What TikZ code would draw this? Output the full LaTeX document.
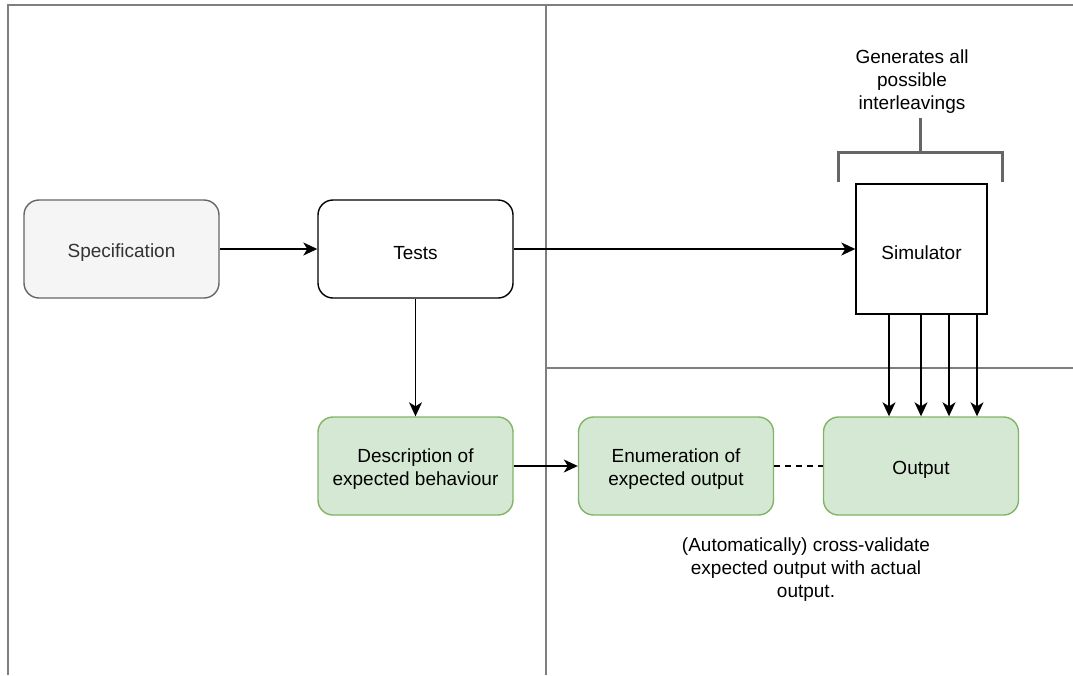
\documentclass[tikz,border=0pt]{standalone}
\usepackage{fontspec}
\setmainfont{Liberation Sans}
\usetikzlibrary{arrows.meta}
\definecolor{specfill}{HTML}{F5F5F5}
\definecolor{specdraw}{HTML}{666666}
\definecolor{spectext}{HTML}{333333}
\definecolor{gfill}{HTML}{D5E8D4}
\definecolor{gdraw}{HTML}{82B366}
\definecolor{framecol}{HTML}{7F7F7F}
\definecolor{brkcol}{HTML}{666666}
\newcommand{\topstrut}{\rule{0pt}{20.5pt}}
\begin{document}
\begin{tikzpicture}[x=1pt,y=-1pt,
  txt/.style={align=center, font=\fontsize{19}{23}\selectfont, inner sep=0pt},
  box/.style={txt, rounded corners=15pt, minimum width=195pt, minimum height=98pt, line width=1.4pt},
  specbox/.style={box, fill=specfill, draw=specdraw, text=spectext},
  plainbox/.style={box, fill=white, draw=black},
  greenbox/.style={box, fill=gfill, draw=gdraw},
  simbox/.style={txt, minimum width=131pt, minimum height=130pt, draw=black, fill=white, line width=1.4pt},
  arr/.style={line width=1.4pt, -{Stealth[length=14pt,width=13pt,inset=4pt]}},
  frameline/.style={line width=1.8pt, draw=framecol},
  brk/.style={line width=3pt, draw=brkcol}]
\useasboundingbox (0,0) rectangle (1073,675);
% frame
\draw[frameline] (8,675) -- (8,5) -- (1073,5);
\draw[frameline] (546,5) -- (546,675);
\draw[frameline] (546,368) -- (1073,368);
% nodes
\node[specbox] (spec) at (121.5,249) {\topstrut Specification};
\node[plainbox] (tests) at (415.5,249) {\topstrut Tests};
\node[simbox] (sim) at (921.5,249) {\topstrut Simulator};
\node[greenbox] (desc) at (415.5,466) {\topstrut Description of\\expected behaviour};
\node[greenbox] (enum) at (676,466) {\topstrut Enumeration of\\expected output};
\node[greenbox] (out) at (921,466) {\topstrut Output};
\node[txt] (gen) at (912,78) {\topstrut Generates all\\possible\\interleavings};
\node[txt] (cv) at (806,566) {\topstrut (Automatically) cross-validate\\expected output with actual\\output.};
% bracket
\coordinate (bl) at (838,182);
\coordinate (br) at (1002,182);
\coordinate (bs) at (920,118);
\draw[brk] (bl) -- (bl |- 0,152) -- (br |- 0,152) -- (br);
\draw[brk] (bs |- 0,152) -- (bs);
% connectors
\draw[arr] (spec) -- (tests);
\draw[arr] (tests) -- (sim);
\draw[arr] (tests) -- (desc);
\draw[arr] (desc) -- (enum);
\draw[line width=1.4pt, dashed, dash pattern=on 6pt off 5pt] (enum) -- (out);
\foreach \dx in {-32.5,-0.5,27.5,55.5}{
  \draw[arr] ([xshift=\dx pt]sim.south) -- ([xshift=\dx pt]sim.south |- out.north);
}
\end{tikzpicture}
\end{document}
